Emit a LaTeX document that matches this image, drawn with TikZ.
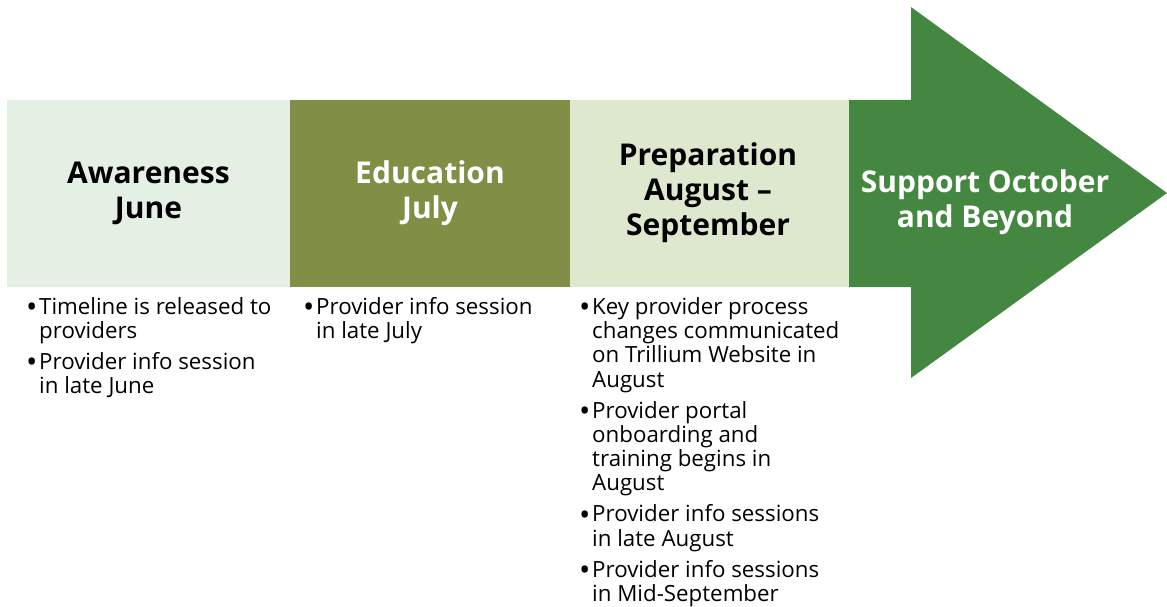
\documentclass[tikz,border=0pt]{standalone}
\usepackage{fontspec}
\setmainfont{Open Sans}
\usetikzlibrary{positioning}
\definecolor{mintbox}{RGB}{229,240,228}
\definecolor{olivebox}{RGB}{128,142,70}
\definecolor{sagebox}{RGB}{222,232,206}
\definecolor{arrowgreen}{RGB}{68,135,64}
\newcommand{\bul}{\makebox[13pt][l]{\raisebox{-3.2pt}{\scalebox{1.35}{\textbullet}}}}
\newcommand{\hang}{\hspace*{13pt}}
\begin{document}
\begin{tikzpicture}[x=1pt,y=-1pt,
  phase/.style={font=\bfseries\fontsize{30}{35}\selectfont, align=center, inner sep=0pt},
  notes/.style={anchor=north west, align=left, font=\fontsize{22.3}{24.3}\selectfont, inner sep=0pt}]
\useasboundingbox (0,0) rectangle (1167,607);
% Phase boxes
\fill[mintbox] (7,100) rectangle (290,287);
\fill[olivebox] (290,100) rectangle (570,287);
\fill[sagebox] (570,100) rectangle (849,287);
% Big arrow
\fill[arrowgreen] (849,100) -- (911,100) -- (911,7) -- (1167,193) -- (911,378)
  -- (911,287) -- (849,287) -- cycle;

% Phase titles
\node[phase] (awareness) at (148.5,193) {Awareness\\June};
\node[phase, text=white] (education) at (430,193) {Education\\July};
\node[phase] (preparation) at (708,193) {Preparation\\August --\\September};
\node[phase, text=white] (support) at (985,202.5) {Support October\\and Beyond};

% Notes under each phase
\node[notes] (awarenotes) at (26,297) {\bul Timeline is released to\\
  \hang providers\\[6.7pt]
  \bul Provider info session\\
  \hang in late June};
\node[notes] (edunotes) at (303,297) {\bul Provider info session\\
  \hang in late July};
\node[notes] (prepnotes) at (579,297) {\bul Key provider process\\
  \hang changes communicated\\
  \hang on Trillium Website in\\
  \hang August\\[6.7pt]
  \bul Provider portal\\
  \hang onboarding and\\
  \hang training begins in\\
  \hang August\\[6.7pt]
  \bul Provider info sessions\\
  \hang in late August\\[6.7pt]
  \bul Provider info sessions\\
  \hang in Mid-September};
\end{tikzpicture}
\end{document}
